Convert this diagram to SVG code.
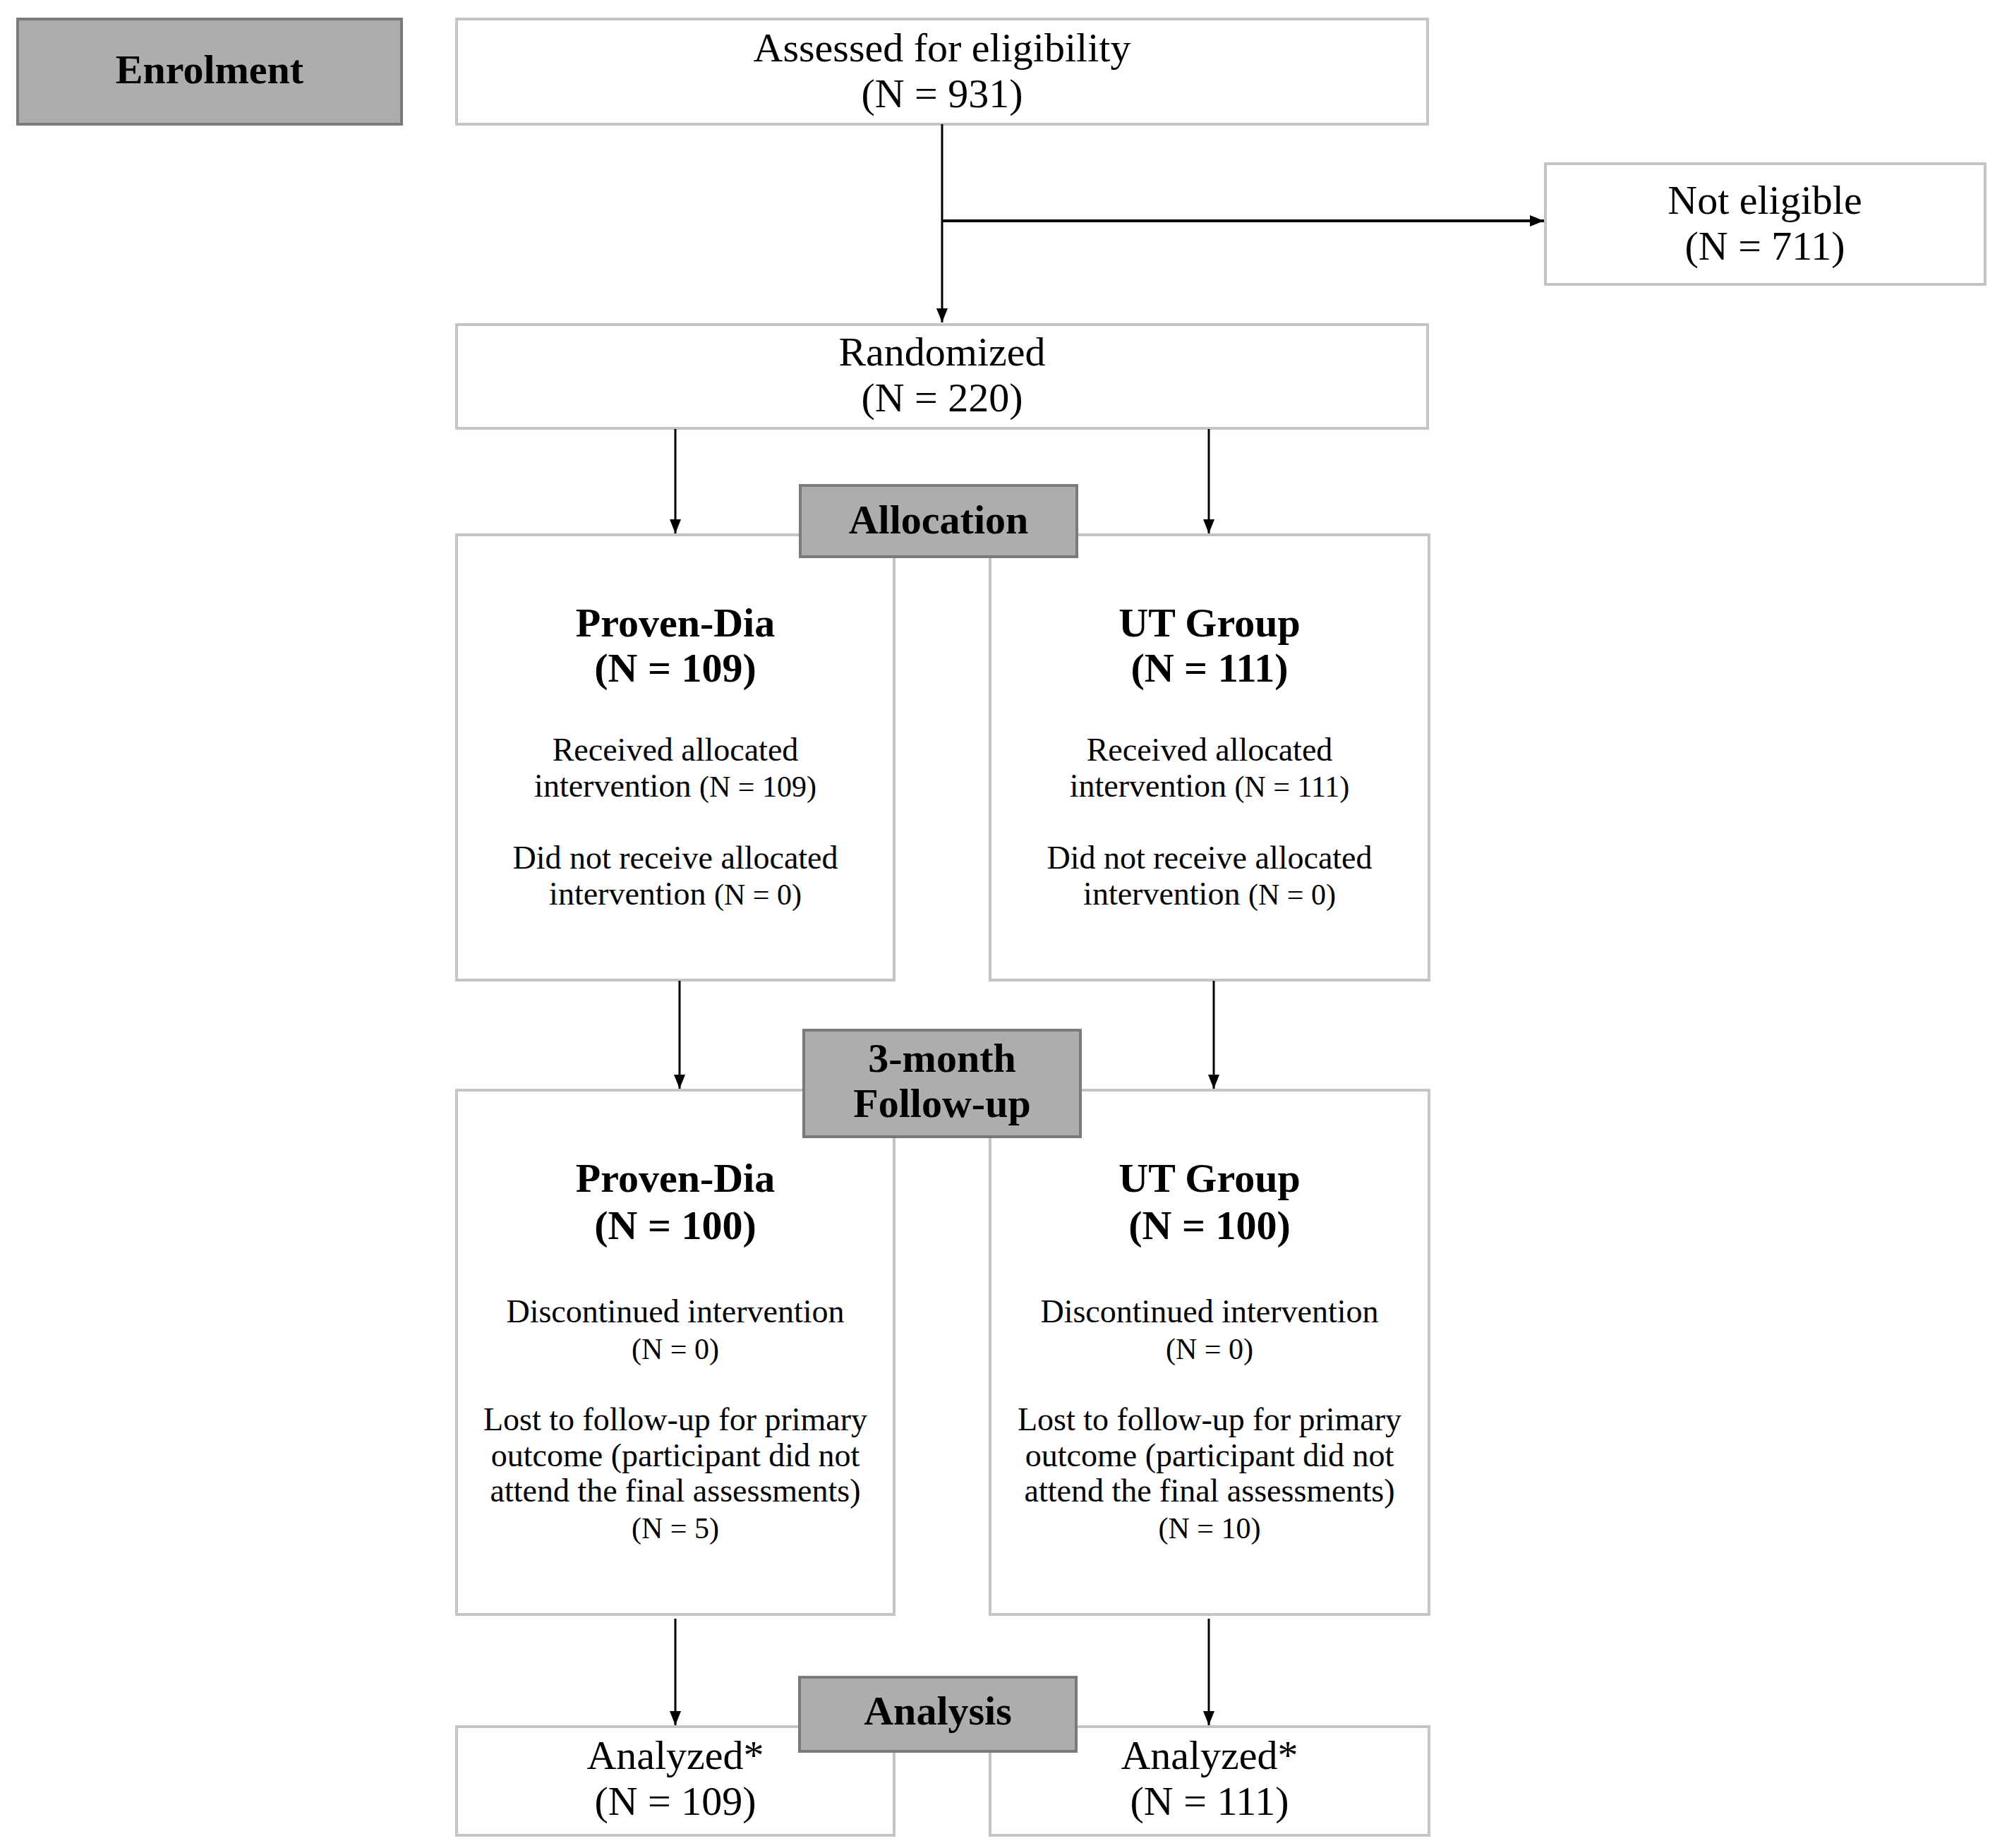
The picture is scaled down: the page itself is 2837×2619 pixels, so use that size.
<svg xmlns="http://www.w3.org/2000/svg" width="2837" height="2619" viewBox="0 0 2837 2619">
<defs>
<marker id="ah" viewBox="0 0 20 16" refX="20" refY="8" markerWidth="20" markerHeight="16" markerUnits="userSpaceOnUse" orient="auto">
<path d="M0,0 L20,8 L0,16 z" fill="#000"/>
</marker>
<style>
.box{fill:#fff;stroke:#c4c4c4;stroke-width:4}
.gbox{fill:#adadad;stroke:#7a7a7a;stroke-width:4}
text{font-family:"Liberation Serif","Times New Roman",serif;fill:#000;text-anchor:middle}
.big{font-size:58px}
.bold{font-size:58px;font-weight:bold}
.sm{font-size:46px}
.n{font-size:42px}
.con line{stroke:#000;stroke-width:3;fill:none}
</style>
</defs>
<rect width="2837" height="2619" fill="#fff"/>

<g id="enrolment">
<rect class="gbox" x="25" y="27" width="544" height="149"/>
<text class="bold" x="297" y="118">Enrolment</text>
</g>

<g id="assessed">
<rect class="box" x="647" y="27" width="1376" height="149"/>
<text class="big" x="1335" y="87">Assessed for eligibility</text>
<text class="big" x="1335" y="152">(N = 931)</text>
</g>

<g id="not-eligible">
<rect class="box" x="2190" y="232" width="623" height="171"/>
<text class="big" x="2501" y="303">Not eligible</text>
<text class="big" x="2501" y="368">(N = 711)</text>
</g>

<g id="randomized">
<rect class="box" x="647" y="460" width="1376" height="147"/>
<text class="big" x="1335" y="518">Randomized</text>
<text class="big" x="1335" y="583">(N = 220)</text>
</g>

<g id="alloc-left">
<rect class="box" x="647" y="758" width="620" height="631"/>
<text class="bold" x="957" y="902">Proven-Dia</text>
<text class="bold" x="957" y="966">(N = 109)</text>
<text class="sm" x="957" y="1078">Received allocated</text>
<text class="sm" x="957" y="1129">intervention <tspan class="n">(N = 109)</tspan></text>
<text class="sm" x="957" y="1231">Did not receive allocated</text>
<text class="sm" x="957" y="1282">intervention <tspan class="n">(N = 0)</tspan></text>
</g>

<g id="alloc-right">
<rect class="box" x="1403" y="758" width="622" height="631"/>
<text class="bold" x="1714" y="902">UT Group</text>
<text class="bold" x="1714" y="966">(N = 111)</text>
<text class="sm" x="1714" y="1078">Received allocated</text>
<text class="sm" x="1714" y="1129">intervention <tspan class="n">(N = 111)</tspan></text>
<text class="sm" x="1714" y="1231">Did not receive allocated</text>
<text class="sm" x="1714" y="1282">intervention <tspan class="n">(N = 0)</tspan></text>
</g>

<g id="allocation">
<rect class="gbox" x="1134" y="688" width="392" height="101"/>
<text class="bold" x="1330" y="756">Allocation</text>
</g>

<g id="follow-left">
<rect class="box" x="647" y="1545" width="620" height="743"/>
<text class="bold" x="957" y="1689">Proven-Dia</text>
<text class="bold" x="957" y="1756">(N = 100)</text>
<text class="sm" x="957" y="1874">Discontinued intervention</text>
<text class="n" x="957" y="1926">(N = 0)</text>
<text class="sm" x="957" y="2027">Lost to follow-up for primary</text>
<text class="sm" x="957" y="2078">outcome (participant did not</text>
<text class="sm" x="957" y="2128">attend the final assessments)</text>
<text class="n" x="957" y="2180">(N = 5)</text>
</g>

<g id="follow-right">
<rect class="box" x="1403" y="1545" width="622" height="743"/>
<text class="bold" x="1714" y="1689">UT Group</text>
<text class="bold" x="1714" y="1756">(N = 100)</text>
<text class="sm" x="1714" y="1874">Discontinued intervention</text>
<text class="n" x="1714" y="1926">(N = 0)</text>
<text class="sm" x="1714" y="2027">Lost to follow-up for primary</text>
<text class="sm" x="1714" y="2078">outcome (participant did not</text>
<text class="sm" x="1714" y="2128">attend the final assessments)</text>
<text class="n" x="1714" y="2180">(N = 10)</text>
</g>

<g id="followup">
<rect class="gbox" x="1139" y="1460" width="392" height="151"/>
<text class="bold" x="1335" y="1519">3-month</text>
<text class="bold" x="1335" y="1583">Follow-up</text>
</g>

<g id="analyzed-left">
<rect class="box" x="647" y="2447" width="620" height="154"/>
<text class="big" x="957" y="2507">Analyzed*</text>
<text class="big" x="957" y="2572">(N = 109)</text>
</g>

<g id="analyzed-right">
<rect class="box" x="1403" y="2447" width="622" height="154"/>
<text class="big" x="1714" y="2507">Analyzed*</text>
<text class="big" x="1714" y="2572">(N = 111)</text>
</g>

<g id="analysis">
<rect class="gbox" x="1133" y="2377" width="392" height="105"/>
<text class="bold" x="1329" y="2444">Analysis</text>
</g>

<g id="connectors" class="con">
<line x1="1335" y1="176" x2="1335" y2="457" marker-end="url(#ah)"/>
<line x1="1335" y1="313" x2="2188" y2="313" style="stroke-width:4" marker-end="url(#ah)"/>
<line x1="957" y1="608" x2="957" y2="756" marker-end="url(#ah)"/>
<line x1="1713" y1="608" x2="1713" y2="756" marker-end="url(#ah)"/>
<line x1="963" y1="1390" x2="963" y2="1543" marker-end="url(#ah)"/>
<line x1="1720" y1="1390" x2="1720" y2="1543" marker-end="url(#ah)"/>
<line x1="957" y1="2294" x2="957" y2="2445" marker-end="url(#ah)"/>
<line x1="1713" y1="2294" x2="1713" y2="2445" marker-end="url(#ah)"/>
</g>
</svg>
